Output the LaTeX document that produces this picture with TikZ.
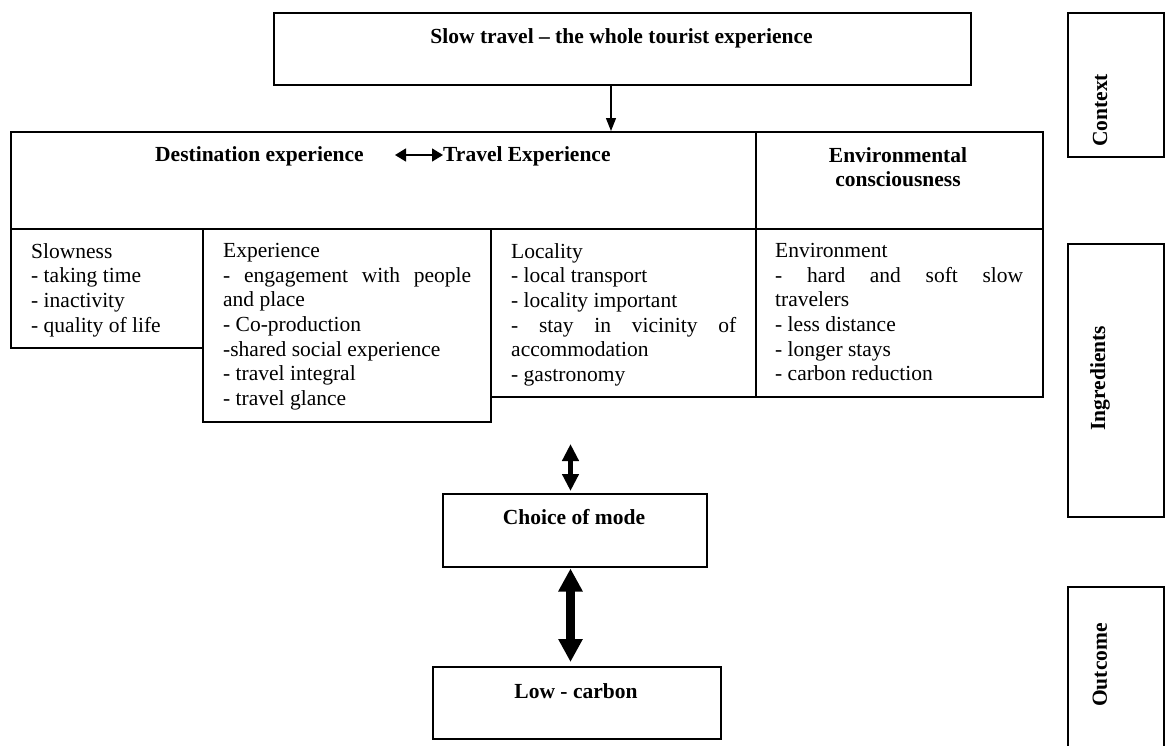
\documentclass[tikz,border=0pt]{standalone}
\usepackage{fontspec}
\setmainfont{Liberation Serif}
\usetikzlibrary{arrows.meta,calc}
\newcommand\bodyfs{\fontsize{21.5}{24.7}\selectfont}
\setlength\parindent{0pt}
\tikzset{
  box/.style={draw, line width=1.5pt, rectangle, inner sep=0pt, anchor=north west},
  body/.style={anchor=north west, inner sep=0pt, align=justify, font=\bodyfs},
  bold/.style={inner sep=0pt, font=\bodyfs\bfseries},
  lbl/.style={rotate=90, inner sep=0pt, font=\bodyfs\bfseries},
}
\begin{document}
\begin{tikzpicture}[x=1pt,y=1pt]
\useasboundingbox (0,0) rectangle (1165,-745);
% boxes
\node[box, minimum width=697pt, minimum height=72pt] (top) at (273,-12) {};
\node[box, minimum width=745pt, minimum height=97pt] (headL) at (10,-131) {};
\node[box, minimum width=287pt, minimum height=97pt] (headR) at (755,-131) {};
\node[box, minimum width=192pt, minimum height=119pt] (slow) at (10,-228) {};
\node[box, minimum width=288pt, minimum height=193pt] (exp) at (202,-228) {};
\node[box, minimum width=265pt, minimum height=168pt] (loc) at (490,-228) {};
\node[box, minimum width=287pt, minimum height=168pt] (env) at (755,-228) {};
\node[box, minimum width=264pt, minimum height=73pt] (choice) at (442,-493) {};
\node[box, minimum width=288pt, minimum height=72pt] (low) at (432,-666) {};
\node[box, minimum width=96pt, minimum height=144pt] (ctx) at (1067,-12) {};
\node[box, minimum width=96pt, minimum height=273pt] (ing) at (1067,-243) {};
\node[box, minimum width=96pt, minimum height=180pt] (out) at (1067,-586) {};
% titles
\node[bold, anchor=base] (tt) at (621.5,-43.5) {Slow travel – the whole tourist experience};
\node[bold, anchor=base west] (dest) at (155,-161) {Destination experience};
\node[bold, anchor=base west] (travel) at (443,-161) {Travel Experience};
\node[bold, anchor=north, align=center] (envh) at (898,-147) {Environmental\\consciousness};
\node[bold, anchor=base] (choicet) at (574,-524.5) {Choice of mode};
\node[bold, anchor=base] (lowt) at (576,-698) {Low - carbon};
% bodies
\node[body, text width=172pt] (slowt) at (31,-243) {Slowness\\- taking time\\- inactivity\\- quality of life};
\node[body, text width=248pt] (expt) at (223,-243) {Experience\\- engagement with people\linebreak and place\\- Co-production\\-shared social experience\\- travel integral\\- travel glance};
\node[body, text width=225pt] (loct) at (511,-243) {Locality\\- local transport\\- locality important\\- stay in vicinity of\linebreak accommodation\\- gastronomy};
\node[body, text width=248pt] (envt) at (775,-243) {Environment\\- hard and soft slow\linebreak travelers\\- less distance\\- longer stays\\- carbon reduction};
% side labels
\node[lbl] (ctxt) at (1100,-110.5) {Context};
\node[lbl] (ingt) at (1100,-378) {Ingredients};
\node[lbl] (outt) at (1100,-665) {Outcome};
% connectors
\coordinate (a1) at (611,-131);
\draw[line width=1.2pt, -{Triangle[width=10pt,length=13pt]}] (a1 |- top.south) -- (a1);
\coordinate (ha) at (395,-155);
\draw[line width=1.5pt, {Triangle[width=13pt,length=11pt]}-{Triangle[width=13pt,length=11pt]}] (ha) -- (travel.west |- ha);
\coordinate (sa) at (570.5,-444);
\draw[line width=5pt, {Triangle[width=16pt,length=17pt]}-{Triangle[width=16pt,length=17pt]}] (sa) -- ($(sa |- choice.north)+(0,2)$);
\draw[line width=9pt, {Triangle[width=23pt,length=23pt]}-{Triangle[width=23pt,length=23pt]}] ($(sa |- choice.south)+(0,-1)$) -- ($(sa |- low.north)+(0,4)$);
\end{tikzpicture}
\end{document}
